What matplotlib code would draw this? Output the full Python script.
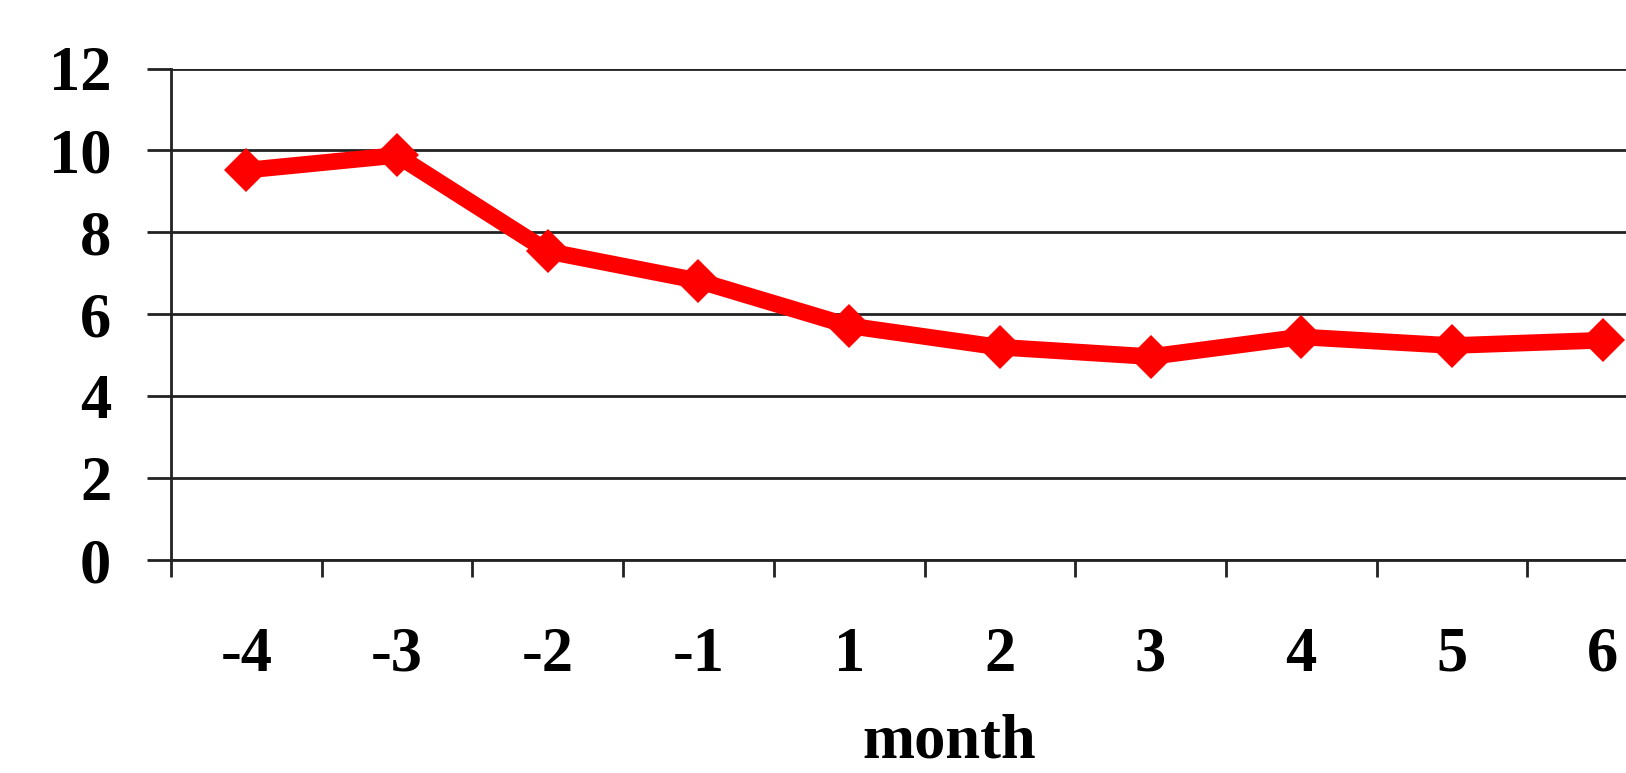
import matplotlib
matplotlib.use("Agg")
import matplotlib.pyplot as plt
import numpy as np

months = ['-4', '-3', '-2', '-1', '1', '2', '3', '4', '5', '6']
values = [9.52, 9.88, 7.54, 6.82, 5.72, 5.2, 4.97, 5.45, 5.24, 5.37]
y_ticks = [0, 2, 4, 6, 8, 10, 12]

plt.rcParams['font.family'] = ['Liberation Serif', 'DejaVu Serif']
plt.rcParams['font.weight'] = 'bold'

fig = plt.figure(figsize=(16.26, 7.73), dpi=100)
# axes runs past the right edge of the picture, as in the original
ax = fig.add_axes([171 / 1626, 1 - 560.3 / 773, 1507 / 1626, 491.8 / 773])

x = np.arange(len(months))
ax.plot(x, values, color='#ff0000', linewidth=12, marker='D',
        markersize=22, markeredgewidth=0, zorder=3, clip_on=False)

ax.set_xlim(-0.5, len(months) - 0.5)
ax.set_ylim(0, 12)
ax.set_yticks(y_ticks)
ax.set_yticklabels([str(v) for v in y_ticks], fontsize=45, fontweight='bold')

# category ticks sit between categories, labels at the centres
ax.set_xticks(np.arange(len(months) + 1) - 0.5)
ax.set_xticklabels([])
ax.set_xticks(x, minor=True)
ax.set_xticklabels(months, minor=True, fontsize=45, fontweight='bold')
ax.tick_params(axis='x', which='minor', length=0, pad=48)
ax.tick_params(axis='x', which='major', length=12, width=2, color='#222222')
ax.tick_params(axis='y', length=17, width=2, color='#222222', pad=26)

ax.grid(axis='y', color='#222222', linewidth=2)
ax.set_axisbelow(True)
for side in ['top', 'right']:
    ax.spines[side].set_visible(False)
ax.spines['left'].set_color('#222222')
ax.spines['left'].set_linewidth(2)
ax.spines['bottom'].set_color('#222222')
ax.spines['bottom'].set_linewidth(2)

fig.text(949 / 1626, 0.002, 'month', fontsize=45, fontweight='bold',
         ha='center', va='bottom')

fig.savefig('out.png', dpi=100)
